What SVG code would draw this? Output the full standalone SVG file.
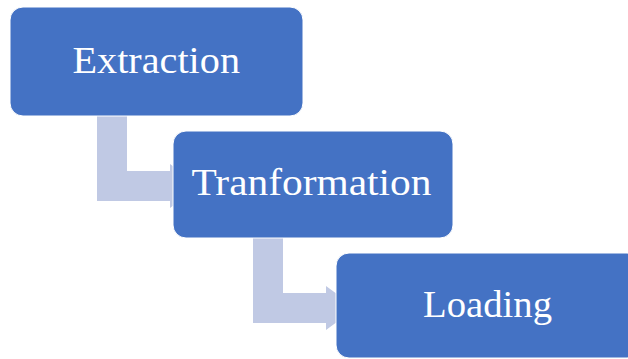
<svg xmlns="http://www.w3.org/2000/svg" width="628" height="359" viewBox="0 0 628 359">
  <style>
    .box { fill: #4472C4; stroke: #FFFFFF; stroke-width: 1; }
    .conn { fill: #C0C9E4; stroke: none; }
    .lbl { fill: #FFFFFF; font-family: "Liberation Serif", "DejaVu Serif", serif; font-size: 38px; }
  </style>
  <rect width="628" height="359" fill="#FFFFFF"/>
  <g id="connectors">
    <path class="conn" d="M97,110 L127,110 L127,171 L170,171 L170,164 L200,186 L170,208 L170,201 L97,201 Z"/>
    <path class="conn" d="M253,232 L283,232 L283,293 L326,293 L326,286 L356,308 L326,330 L326,323 L253,323 Z"/>
  </g>
  <g id="extraction">
    <rect class="box" x="10" y="7" width="293" height="109" rx="13" ry="13"/>
    <text class="lbl" x="72.5" y="73" textLength="167.5" lengthAdjust="spacingAndGlyphs">Extraction</text>
  </g>
  <g id="transformation">
    <rect class="box" x="173" y="131" width="280" height="107" rx="13" ry="13"/>
    <text class="lbl" x="191.5" y="195" textLength="240" lengthAdjust="spacingAndGlyphs">Tranformation</text>
  </g>
  <g id="loading">
    <rect class="box" x="336" y="253" width="304" height="105" rx="13" ry="13"/>
    <text class="lbl" x="423" y="317" textLength="129" lengthAdjust="spacingAndGlyphs">Loading</text>
  </g>
</svg>
